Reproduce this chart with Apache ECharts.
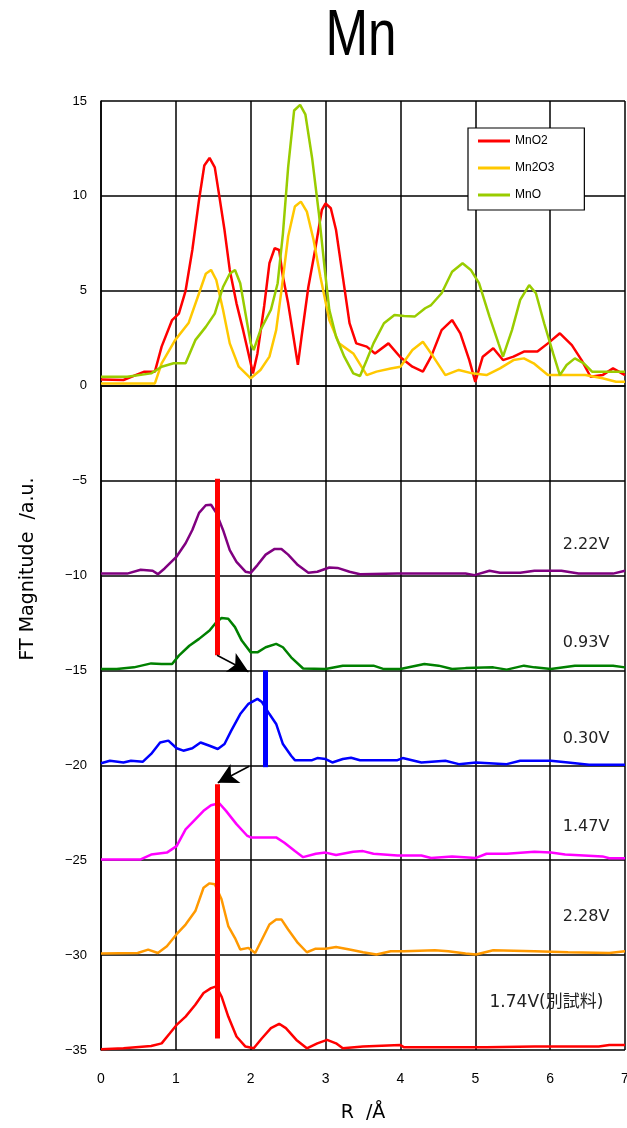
<!DOCTYPE html>
<html><head><meta charset="utf-8">
<script src="https://cdn.jsdelivr.net/npm/echarts@6/dist/echarts.min.js"></script>
<style>html,body{margin:0;padding:0;background:#fff;overflow:hidden}#c{width:627px;height:1128px}</style>
</head><body><div id="c"></div>
<script>
// ---- Data (R in Å, FT magnitude in a.u.) ----
const xTicks = [0,1,2,3,4,5,6,7];
const yTicks = [15,10,5,0,-5,-10,-15,-20,-25,-30,-35];

const mno2 = [[0,0.33],[0.3,0.3],[0.58,0.74],[0.72,0.74],[0.81,2.06],[0.95,3.46],[1.04,3.8],[1.13,5.0],[1.22,7.15],[1.31,9.8],[1.38,11.6],[1.45,12.0],[1.52,11.5],[1.58,10.0],[1.65,8.2],[1.72,6.1],[1.81,4.34],[1.9,2.9],[1.97,1.7],[2.03,0.65],[2.09,1.7],[2.18,4.2],[2.25,6.45],[2.32,7.24],[2.38,7.15],[2.43,5.75],[2.5,4.34],[2.57,2.6],[2.63,1.1],[2.68,2.6],[2.77,5.2],[2.86,7.15],[2.95,9.26],[3.0,9.6],[3.07,9.35],[3.14,8.2],[3.23,5.75],[3.32,3.3],[3.41,2.23],[3.55,2.06],[3.66,1.7],[3.84,2.23],[4.0,1.5],[4.16,1.0],[4.3,0.74],[4.41,1.53],[4.55,2.93],[4.69,3.46],[4.8,2.76],[4.92,1.35],[5.0,0.2],[5.1,1.53],[5.24,1.97],[5.37,1.35],[5.51,1.53],[5.65,1.8],[5.83,1.8],[5.97,2.23],[6.13,2.76],[6.29,2.14],[6.42,1.35],[6.54,0.47],[6.7,0.56],[6.84,0.91],[7.0,0.56]];
const mn2o3 = [[0,0.12],[0.4,0.12],[0.72,0.12],[0.81,1.18],[0.99,2.4],[1.17,3.3],[1.31,4.87],[1.4,5.9],[1.47,6.1],[1.54,5.57],[1.63,4.0],[1.72,2.23],[1.84,1.0],[2.0,0.39],[2.13,0.83],[2.25,1.53],[2.34,2.93],[2.41,5.0],[2.5,7.86],[2.59,9.44],[2.67,9.7],[2.75,9.17],[2.84,7.68],[2.93,5.75],[3.05,3.46],[3.18,2.23],[3.37,1.7],[3.55,0.56],[3.68,0.74],[3.87,0.91],[4.0,1.0],[4.16,1.88],[4.3,2.32],[4.41,1.7],[4.6,0.56],[4.78,0.83],[4.96,0.65],[5.15,0.56],[5.33,0.91],[5.51,1.35],[5.65,1.44],[5.78,1.18],[5.97,0.56],[6.24,0.56],[6.47,0.56],[6.7,0.39],[6.88,0.21],[7.0,0.21]];
const mno = [[0,0.47],[0.35,0.47],[0.67,0.65],[0.81,1.0],[0.97,1.18],[1.13,1.18],[1.26,2.4],[1.4,3.1],[1.52,3.8],[1.63,5.2],[1.72,5.9],[1.79,6.1],[1.86,5.4],[1.93,3.8],[2.0,2.23],[2.04,1.88],[2.13,2.93],[2.27,4.0],[2.36,5.4],[2.43,8.0],[2.5,11.5],[2.58,14.5],[2.66,14.8],[2.73,14.3],[2.82,12.0],[2.91,9.1],[2.99,6.1],[3.05,4.0],[3.14,2.58],[3.25,1.53],[3.37,0.65],[3.46,0.51],[3.55,1.35],[3.64,2.23],[3.78,3.29],[3.92,3.73],[4.05,3.67],[4.19,3.64],[4.33,4.08],[4.41,4.25],[4.55,4.87],[4.69,6.0],[4.83,6.45],[4.94,6.1],[5.05,5.4],[5.19,3.64],[5.31,2.23],[5.37,1.53],[5.49,2.93],[5.6,4.52],[5.72,5.3],[5.81,4.87],[5.92,3.29],[6.04,1.7],[6.13,0.56],[6.22,1.09],[6.33,1.44],[6.45,1.18],[6.56,0.74],[6.79,0.74],[7.0,0.74]];
const v222 = [[0,-9.9],[0.35,-9.9],[0.53,-9.7],[0.69,-9.75],[0.76,-9.93],[0.85,-9.63],[1.01,-9.0],[1.13,-8.3],[1.22,-7.6],[1.31,-6.7],[1.4,-6.3],[1.47,-6.27],[1.54,-6.7],[1.63,-7.6],[1.72,-8.66],[1.81,-9.28],[1.93,-9.8],[2.0,-9.86],[2.09,-9.45],[2.2,-8.9],[2.32,-8.6],[2.41,-8.6],[2.5,-8.9],[2.63,-9.45],[2.77,-9.86],[2.89,-9.8],[3.05,-9.58],[3.16,-9.6],[3.32,-9.8],[3.46,-9.93],[3.96,-9.9],[4.87,-9.9],[4.99,-9.98],[5.19,-9.75],[5.33,-9.86],[5.6,-9.86],[5.79,-9.75],[6.15,-9.75],[6.38,-9.9],[6.84,-9.9],[7.0,-9.75]];
const v093 = [[0,-14.93],[0.21,-14.93],[0.44,-14.84],[0.67,-14.63],[0.81,-14.66],[0.95,-14.66],[1.04,-14.22],[1.18,-13.7],[1.31,-13.34],[1.45,-12.9],[1.54,-12.46],[1.61,-12.24],[1.7,-12.28],[1.79,-12.72],[1.88,-13.43],[2.0,-14.05],[2.09,-14.05],[2.2,-13.78],[2.34,-13.6],[2.43,-13.78],[2.54,-14.31],[2.7,-14.9],[3.0,-14.93],[3.23,-14.75],[3.64,-14.75],[3.78,-14.93],[4.0,-14.93],[4.32,-14.66],[4.51,-14.75],[4.69,-14.93],[4.87,-14.88],[5.24,-14.84],[5.42,-14.96],[5.65,-14.75],[5.79,-14.84],[6.01,-14.93],[6.33,-14.75],[6.84,-14.75],[7.0,-14.84]];
const v030 = [[0,-19.89],[0.12,-19.76],[0.3,-19.85],[0.4,-19.76],[0.56,-19.81],[0.67,-19.4],[0.79,-18.8],[0.9,-18.7],[1.01,-19.1],[1.1,-19.23],[1.22,-19.1],[1.33,-18.8],[1.45,-18.97],[1.56,-19.14],[1.65,-18.88],[1.74,-18.17],[1.86,-17.3],[1.97,-16.76],[2.09,-16.5],[2.15,-16.67],[2.25,-17.3],[2.34,-17.82],[2.43,-18.88],[2.54,-19.5],[2.59,-19.73],[2.82,-19.73],[2.89,-19.62],[3.0,-19.67],[3.09,-19.85],[3.23,-19.67],[3.34,-19.6],[3.46,-19.73],[3.96,-19.73],[4.03,-19.62],[4.28,-19.85],[4.6,-19.76],[4.78,-19.94],[5.01,-19.85],[5.42,-19.94],[5.6,-19.76],[5.83,-19.76],[6.01,-19.76],[6.24,-19.85],[6.52,-19.97],[7.0,-19.97]];
const v147 = [[0,-24.96],[0.53,-24.96],[0.67,-24.7],[0.88,-24.6],[1.01,-24.26],[1.13,-23.38],[1.26,-22.85],[1.37,-22.4],[1.47,-22.1],[1.58,-22.0],[1.67,-22.4],[1.81,-23.1],[1.95,-23.7],[2.0,-23.8],[2.34,-23.8],[2.45,-24.08],[2.59,-24.52],[2.7,-24.84],[2.87,-24.66],[3.0,-24.6],[3.14,-24.73],[3.37,-24.56],[3.5,-24.52],[3.64,-24.66],[3.96,-24.75],[4.28,-24.75],[4.41,-24.88],[4.69,-24.8],[5.01,-24.88],[5.15,-24.66],[5.42,-24.66],[5.79,-24.56],[6.01,-24.6],[6.2,-24.7],[6.7,-24.8],[6.79,-24.9],[7.0,-24.9]];
const v228 = [[0,-29.92],[0.49,-29.89],[0.63,-29.71],[0.76,-29.89],[0.88,-29.53],[1.01,-28.9],[1.13,-28.39],[1.26,-27.68],[1.37,-26.45],[1.45,-26.22],[1.52,-26.27],[1.61,-27.06],[1.7,-28.47],[1.79,-29.1],[1.86,-29.7],[1.97,-29.62],[2.06,-29.89],[2.15,-29.18],[2.25,-28.39],[2.34,-28.12],[2.41,-28.12],[2.5,-28.65],[2.63,-29.36],[2.75,-29.85],[2.86,-29.67],[3.0,-29.67],[3.14,-29.57],[3.32,-29.71],[3.5,-29.85],[3.68,-29.97],[3.87,-29.8],[4.05,-29.8],[4.46,-29.74],[4.64,-29.8],[4.87,-29.92],[5.01,-29.97],[5.24,-29.74],[5.79,-29.8],[6.24,-29.85],[6.79,-29.89],[7.0,-29.8]];
const v174 = [[0,-34.96],[0.3,-34.91],[0.67,-34.79],[0.81,-34.65],[0.92,-34.12],[1.01,-33.68],[1.13,-33.24],[1.26,-32.62],[1.37,-32.0],[1.47,-31.74],[1.54,-31.65],[1.61,-32.18],[1.7,-33.24],[1.81,-34.29],[1.93,-34.82],[2.04,-34.91],[2.15,-34.38],[2.27,-33.85],[2.38,-33.62],[2.47,-33.85],[2.61,-34.47],[2.75,-34.91],[2.89,-34.65],[3.02,-34.47],[3.14,-34.65],[3.23,-34.91],[3.5,-34.82],[4.0,-34.74],[4.05,-34.86],[4.41,-34.86],[5.15,-34.86],[5.79,-34.82],[6.65,-34.82],[6.79,-34.74],[7.0,-34.74]];

const refNames = ['MnO2','Mn2O3','MnO'];
const voltageLabels = ['2.22V','0.93V','0.30V','1.47V','2.28V','1.74V(別試料)'];
const labelAnchors = [[6.48,-8.4],[6.48,-13.53],[6.48,-18.63],[6.48,-23.26],[6.48,-28.0],[5.95,-32.5]];
// annotation bars: [x, yTop, yBottom]
const peakBars = [[1.55,-4.9,-14.2],[2.2,-15.0,-20.1],[1.55,-21.0,-34.4]];
// arrows: [[x0,y0],[x1,y1]]
const arrows = [[[1.55,-14.2],[1.97,-15.07]],[[1.98,-20.05],[1.56,-20.92]]];

const font = "'Liberation Sans', Arial, sans-serif";
const chart = echarts.init(document.getElementById('c'), null, {renderer:'canvas'});

function lineSeries(name, data, color, labelIdx) {
  const s = {
    name, type:'line', data, showSymbol:false, symbol:'none', smooth:false,
    lineStyle:{color, width:2.5}, itemStyle:{color}, animation:false, z:3
  };
  if (labelIdx !== undefined) {
    s.markPoint = {
      symbol:'circle', symbolSize:0, silent:true, animation:false,
      label:{show:true, position:'inside', color:'#222', fontSize: labelIdx === 5 ? 17 : 16,
        fontFamily:"'DejaVu Sans', 'Noto Sans CJK JP', sans-serif",
        formatter: p => p.name},
      data:[{name: voltageLabels[labelIdx], coord: labelAnchors[labelIdx]}]
    };
  }
  return s;
}
const barColors = ['#ff0000','#0000ff','#ff0000'];

const option = {
  backgroundColor:'#fff',
  animation:false,
  grid:{left:101, right:2, top:101, bottom:78, containLabel:false, outerBoundsMode:'none'},
  legend:{
    data:refNames, orient:'vertical', left:468, top:128,
    backgroundColor:'#fff', borderColor:'#000', borderWidth:1.2,
    padding:[7,30,9,10], itemGap:15, itemWidth:32, itemHeight:3, icon:'rect',
    textStyle:{fontSize:12, color:'#000', fontFamily:font}
  },
  xAxis:{
    type:'value', min:0, max:7, interval:1,
    name:'R  /Å', nameLocation:'middle', nameGap:54,
    nameTextStyle:{fontSize:19, color:'#000', fontFamily:"'DejaVu Sans', sans-serif"},
    axisLine:{show:true, lineStyle:{color:'#000', width:1.5}},
    axisTick:{show:false},
    axisLabel:{color:'#000', fontSize:14, margin:22, fontFamily:font, formatter:v=> xTicks.includes(v)? String(v):''},
    splitLine:{show:true, lineStyle:{color:'#000', width:1.5}}
  },
  yAxis:{
    type:'value', min:-35, max:15, interval:5,
    axisLine:{show:true, lineStyle:{color:'#000', width:1.5}},
    axisTick:{show:false},
    axisLabel:{color:'#000', fontSize:13, margin:14, fontFamily:font,
      formatter:v=> yTicks.includes(v) ? String(v).replace('-','\u2212') : ''},
    splitLine:{show:true, lineStyle:{color:'#000', width:1.5}}
  },
  graphic:[
    {type:'text', x:361, y:37, scaleX:0.8, silent:true,
      style:{text:'Mn', fill:'#000', font:"64px 'Liberation Sans', Arial, sans-serif", align:'center', verticalAlign:'middle'}},
    {type:'text', x:28, y:569, rotation:Math.PI/2, silent:true,
      style:{text:'FT Magnitude  /a.u.', fill:'#000', font:"19px 'DejaVu Sans', sans-serif", align:'center', verticalAlign:'middle'}}
  ],
  series:[
    lineSeries('MnO2', mno2, '#ff0000'),
    lineSeries('Mn2O3', mn2o3, '#ffc800'),
    lineSeries('MnO', mno, '#99cc00'),
    lineSeries('2.22V', v222, '#800080', 0),
    lineSeries('0.93V', v093, '#008000', 1),
    lineSeries('0.30V', v030, '#0000ff', 2),
    lineSeries('1.47V', v147, '#ff00ff', 3),
    lineSeries('2.28V', v228, '#ff9900', 4),
    lineSeries('1.74V', v174, '#ff0000', 5),
    {
      name:'bars', type:'line', data:[], z:5, silent:true,
      markLine:{symbol:['none','none'], silent:true, animation:false, label:{show:false},
        data: peakBars.map((b,i)=>[{coord:[b[0],b[1]], lineStyle:{color:barColors[i], width:5, type:'solid'}},{coord:[b[0],b[2]]}])}
    },
    {
      name:'arrows', type:'line', data:[], z:6, silent:true,
      markLine:{symbol:['none','arrow'], symbolSize:[16,20], silent:true, animation:false, label:{show:false},
        lineStyle:{color:'#000', width:1.5, type:'solid'},
        data: arrows.map(a=>[{coord:a[0]},{coord:a[1]}])}
    }
  ]
};
chart.setOption(option);
</script></body></html>
